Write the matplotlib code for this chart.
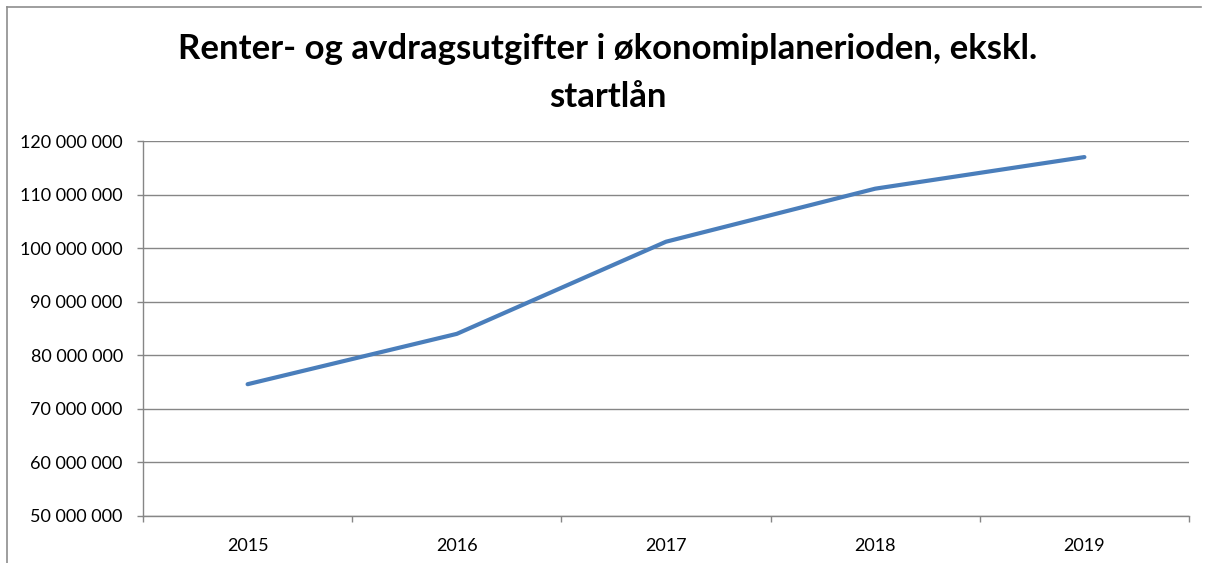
import matplotlib.pyplot as plt
import numpy as np
from matplotlib.lines import Line2D
from matplotlib.ticker import FixedLocator, FuncFormatter

years = ["2015", "2016", "2017", "2018", "2019"]
expenses = [74_600_000, 84_000_000, 101_200_000, 111_100_000, 117_000_000]
title = "Renter- og avdragsutgifter i økonomiplanerioden, ekskl.\nstartlån"

plt.rcParams['font.family'] = ['Lato', 'DejaVu Sans']

W, H = 1211, 563
fig = plt.figure(figsize=(W / 100, H / 100), dpi=100)

# outer chart border (only left and top edges are inside the canvas)
frame_col = '#8e8e8e'
fig.add_artist(Line2D([7 / W, 7 / W], [0, 1 - 7 / H], transform=fig.transFigure, color=frame_col, lw=1.2))
fig.add_artist(Line2D([7 / W, 1201 / W], [1 - 7 / H, 1 - 7 / H], transform=fig.transFigure, color=frame_col, lw=1.2))

ax = fig.add_axes([143 / W, 1 - 516 / H, (1189 - 143) / W, (516 - 141) / H])

x = np.arange(len(years)) + 0.5
ax.plot(x, expenses, color='#4a7ebb', lw=3.0, solid_capstyle='round', zorder=3)

ax.set_xlim(0, len(years))
ax.set_ylim(50_000_000, 120_000_000)

grid_col = '#868686'
ax.yaxis.set_major_locator(FixedLocator(np.arange(50_000_000, 120_000_001, 10_000_000)))
ax.yaxis.set_major_formatter(FuncFormatter(lambda v, p: f"{int(v):,}".replace(",", " ")))
ax.grid(axis='y', color=grid_col, lw=1.0)
ax.set_axisbelow(True)

ax.xaxis.set_major_locator(FixedLocator(np.arange(len(years) + 1)))
ax.xaxis.set_major_formatter(FuncFormatter(lambda v, p: ""))
ax.set_xticks(x, minor=True)
ax.set_xticklabels(years, minor=True)

ax.tick_params(axis='x', which='major', length=4, color=grid_col, width=1, direction='out')
ax.tick_params(axis='x', which='minor', length=0, pad=16, labelsize=13)
ax.tick_params(axis='y', length=4.5, color=grid_col, width=1, pad=10, labelsize=13)

for s in ['top', 'right']:
    ax.spines[s].set_visible(False)
for s in ['left', 'bottom']:
    ax.spines[s].set_color(grid_col)
    ax.spines[s].set_linewidth(1.0)

fig.text(608 / W, 1 - 73 / H, title, ha='center', va='center', fontsize=25,
         fontweight='bold', linespacing=1.6)

fig.savefig('out.png', dpi=100)
